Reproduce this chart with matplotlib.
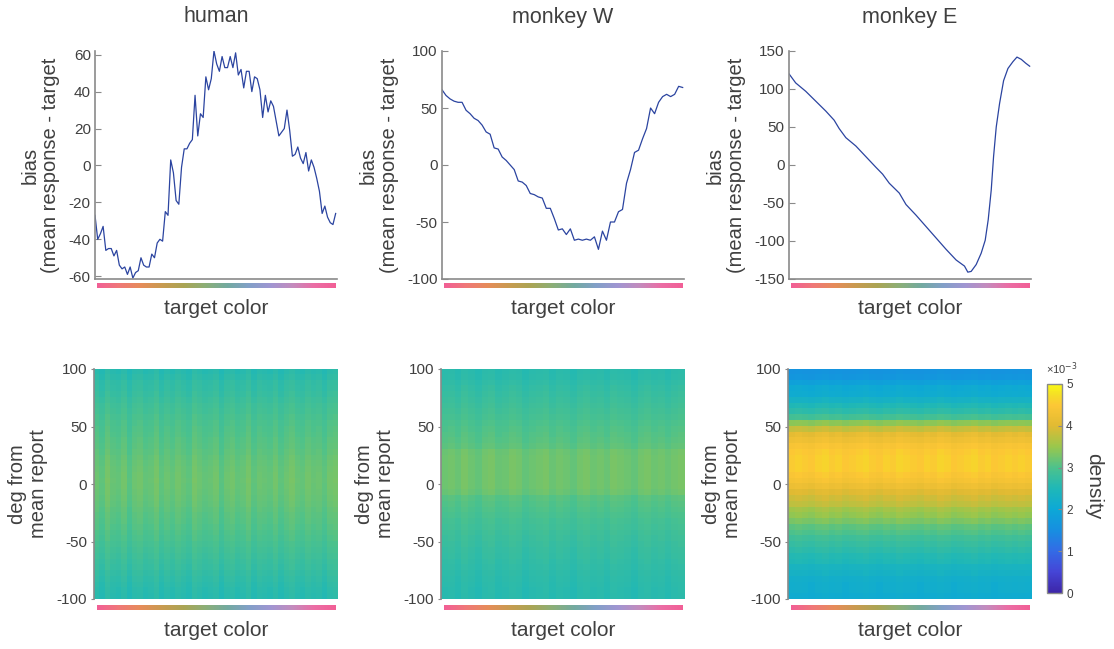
import numpy as np
import matplotlib
matplotlib.use('Agg')
import matplotlib.pyplot as plt
from matplotlib.colors import LinearSegmentedColormap

# ---- data ----
panel_titles = ['human', 'monkey W', 'monkey E']

# bias curves (deg), x = target color position (deg around the hue circle)
human_bias = [-27, -40, -37, -33, -46, -45, -45, -49, -46, -54,
              -56, -55, -59, -55, -61, -58, -57, -50, -54, -55,
              -55, -48, -50, -42, -40, -41, -25, -27, 3, -4,
              -19, -21, -1, 9, 9, 12, 14, 38, 16, 28,
              26, 48, 41, 47, 62, 55, 51, 59, 53, 53,
              59, 53, 61, 49, 52, 42, 51, 51, 40, 48,
              47, 41, 26, 38, 29, 35, 32, 24, 16, 18,
              20, 30, 19, 5, 6, 10, 4, 1, 7, -3,
              3, -1, -7, -14, -26, -22, -28, -31, -32, -26]
monkeyW_bias = [66, 61, 58, 56, 55, 55, 48, 45, 41, 39,
                35, 29, 27, 15, 14, 7, 4, 0, -4, -14,
                -15, -18, -25, -26, -28, -29, -38, -38, -47, -57,
                -56, -61, -56, -66, -65, -66, -65, -66, -63, -74,
                -58, -66, -50, -50, -41, -39, -16, -4, 11, 13,
                23, 32, 50, 45, 55, 60, 62, 60, 62, 69, 68]
monkeyE_x = [0, 10, 25, 40, 55, 67.5, 75, 85, 100, 115,
             130, 140, 150, 165, 175, 190, 205, 220, 235, 250,
             262.5, 267.5, 272.5, 280, 287.5, 293.5, 298, 302.5, 306, 310,
             315, 321, 327.5, 335, 341, 347.5, 354, 360]
monkeyE_bias = [120, 108, 97, 84, 71, 59, 48, 36, 25, 11,
                -3, -12, -24, -37, -52, -66, -81, -96, -111, -125,
                -133, -141, -140, -131, -116, -99, -72, -33, 11, 50,
                81, 111, 127, 136, 142, 139, 134, 130]

top_ylims = [(-61.5, 62), (-100, 100), (-150, 150)]
top_yticks = [[-60, -40, -20, 0, 20, 40, 60],
              [-100, -50, 0, 50, 100],
              [-150, -100, -50, 0, 50, 100, 150]]

# density profiles (x1e-3), rows from +97.5 deg down to -97.5 deg
human_profile = [2.60, 2.65, 2.71, 2.73, 2.77, 2.82, 2.87, 2.90, 2.94, 2.97,
                 3.00, 3.02, 3.05, 3.07, 3.10, 3.13, 3.15, 3.17, 3.18, 3.19,
                 3.18, 3.17, 3.15, 3.13, 3.10, 3.07, 3.05, 3.02, 2.99, 2.96,
                 2.92, 2.88, 2.84, 2.80, 2.77, 2.73, 2.69, 2.65, 2.62, 2.60]
monkeyW_profile = [2.62, 2.64, 2.68, 2.72, 2.76, 2.80, 2.84, 2.88, 2.92, 2.96,
                   3.00, 3.03, 3.06, 3.10, 3.20, 3.22, 3.22, 3.22, 3.22, 3.22,
                   3.22, 3.18, 3.06, 3.02, 2.98, 2.94, 2.90, 2.87, 2.84, 2.81,
                   2.78, 2.75, 2.73, 2.70, 2.68, 2.66, 2.64, 2.62, 2.61, 2.60]
monkeyE_profile = [1.60, 1.65, 1.85, 2.05, 2.10, 2.30, 2.50, 2.65, 2.90, 3.40,
                   3.80, 4.10, 4.25, 4.40, 4.50, 4.55, 4.55, 4.55, 4.45, 4.35,
                   4.20, 4.00, 3.85, 3.75, 3.55, 3.45, 3.30, 3.10, 3.00, 2.85,
                   2.75, 2.65, 2.55, 2.50, 2.35, 2.30, 2.20, 2.15, 2.15, 2.10]

# column-to-column wobble (fraction), read roughly from the striping
human_cols = [0.01, -0.02, 0.03, 0.0, -0.01, 0.02, -0.03, 0.01, 0.02, -0.01,
              0.0, 0.03, -0.02, 0.01, -0.01, 0.02, 0.0, -0.02, 0.03, 0.01,
              -0.01, 0.0, 0.02, -0.03, 0.01, 0.02, -0.01, 0.0, 0.03, -0.02,
              0.01, 0.0, -0.01, 0.02, -0.02, 0.01, 0.03, 0.0, -0.01, 0.02,
              0.0, 0.01, -0.02, 0.02, 0.03]
monkeyW_cols = [0.0, 0.01, -0.01, 0.02, 0.0, -0.02, 0.01, 0.02, -0.01, 0.0,
                0.02, 0.01, -0.02, 0.0, 0.01, 0.02, -0.01, 0.01, 0.0, -0.02,
                0.01, 0.02, 0.0, 0.01, -0.01, 0.02, 0.01, 0.0, -0.02, 0.01,
                0.02, 0.0, 0.01, -0.01, 0.01, 0.02]
monkeyE_cols = [0.0, 0.01, 0.0, -0.01, 0.01, 0.02, 0.0, 0.01, -0.01, 0.0,
                0.01, 0.02, 0.0, -0.01, 0.01, 0.0, 0.02, 0.01, 0.0, -0.01,
                0.01, 0.0, 0.02, 0.01, -0.01, 0.0, 0.01, 0.02, 0.0, 0.01,
                -0.01, 0.0, 0.01, 0.0, 0.01, 0.0]

# hue strip along the target color axis
strip_colors = ['#f25f96', '#f07878', '#e68c5a', '#c89b50', '#aaa555', '#8caf78',
                '#73aaa0', '#82a0c8', '#a096d2', '#c38cbe', '#eb6ea5', '#f25f96']

# ---- styling ----
W, H = 1114, 649
txt_col = '#404040'
ax_col = '#8a8a8a'
line_col = '#2b44a0'
plt.rcParams['font.family'] = ['Liberation Sans', 'DejaVu Sans']
plt.rcParams['axes.unicode_minus'] = False

# parula-like map, anchors matched to the reference colorbar
parula = LinearSegmentedColormap.from_list('parula', [
    (0.0, (0.24, 0.15, 0.66)), (0.1, (0.27, 0.27, 0.84)), (0.2, (0.20, 0.42, 0.90)),
    (0.3, (0.09, 0.56, 0.88)), (0.4, (0.05, 0.66, 0.84)), (0.5, (0.12, 0.72, 0.72)),
    (0.6, (0.30, 0.76, 0.55)), (0.7, (0.60, 0.78, 0.30)), (0.8, (0.88, 0.73, 0.20)),
    (0.9, (0.99, 0.78, 0.21)), (0.95, (0.96, 0.87, 0.15)), (1.0, (0.98, 0.98, 0.08))])
strip_cmap = LinearSegmentedColormap.from_list('hue', strip_colors)


def box(l, t, r, b):
    # pixel box -> figure fraction
    return [l / W, 1 - b / H, (r - l) / W, (b - t) / H]


fig = plt.figure(figsize=(W / 100, H / 100), dpi=100)

lefts = [95, 442, 789]
biases = [(np.linspace(0, 360, len(human_bias)), human_bias),
          (np.linspace(0, 360, len(monkeyW_bias)), monkeyW_bias),
          (monkeyE_x, monkeyE_bias)]
profiles = [human_profile, monkeyW_profile, monkeyE_profile]
colwobble = [human_cols, monkeyW_cols, monkeyE_cols]


def add_strip(l, t):
    sax = fig.add_axes(box(l + 2, t, l + 241, t + 5))
    sax.imshow(np.linspace(0, 1, 256)[None, :], cmap=strip_cmap, aspect='auto')
    sax.axis('off')


for i in range(3):
    l = lefts[i]
    # --- top row: bias curves ---
    ax = fig.add_axes(box(l, 51, l + 242, 279))
    x, y = biases[i]
    ax.plot(x, y, color=line_col, lw=0.9)
    ax.set_xlim(0, 362)
    ax.set_ylim(*top_ylims[i])
    ax.set_yticks(top_yticks[i])
    ax.set_xticks([])
    for s in ['top', 'right']:
        ax.spines[s].set_visible(False)
    for s in ['left', 'bottom']:
        ax.spines[s].set_color(ax_col)
        ax.spines[s].set_linewidth(1.2)
    ax.tick_params(axis='y', direction='in', length=4, width=0.8, color=ax_col,
                   labelcolor=txt_col, labelsize=11, pad=3)
    ax.set_ylabel('bias\n(mean response - target', color=txt_col, fontsize=14.5,
                  labelpad=6, linespacing=1.15)
    add_strip(l, 283)
    fig.text((l + 121) / W, 1 - 308 / H, 'target color', ha='center', va='center',
             color=txt_col, fontsize=15)
    fig.text((l + 121) / W, 1 - 17 / H, panel_titles[i], ha='center', va='center',
             color=txt_col, fontsize=15.5)

    # --- bottom row: density heatmaps ---
    hx = fig.add_axes(box(l - 1, 369, l + 243, 599))
    dens = np.array(profiles[i])[:, None] * (1 + np.array(colwobble[i])[None, :])
    im = hx.imshow(dens, cmap=parula, vmin=0, vmax=5, aspect='auto',
                   extent=[0, 360, -100, 100], origin='upper', interpolation='nearest')
    hx.set_ylim(-100, 100)
    hx.set_yticks([-100, -50, 0, 50, 100])
    hx.set_xticks([])
    for s in ['top', 'right', 'bottom']:
        hx.spines[s].set_visible(False)
    hx.spines['left'].set_color(ax_col)
    hx.spines['left'].set_linewidth(1.2)
    hx.tick_params(axis='y', direction='out', length=2, width=0.8, color=ax_col,
                   labelcolor=txt_col, labelsize=11, pad=3)
    hx.set_ylabel('deg from\nmean report', color=txt_col, fontsize=14.5,
                  labelpad=6, linespacing=1.15)
    add_strip(l, 605)
    fig.text((l + 121) / W, 1 - 630 / H, 'target color', ha='center', va='center',
             color=txt_col, fontsize=15)

# colorbar
cax = fig.add_axes(box(1047, 384, 1062, 593))
cb = fig.colorbar(im, cax=cax, ticks=[0, 1, 2, 3, 4, 5])
cb.outline.set_edgecolor(ax_col)
cb.outline.set_linewidth(1.0)
cax.tick_params(direction='in', length=3, width=0.8, color=ax_col,
                labelcolor=txt_col, labelsize=8.5, pad=3)
fig.text(1046 / W, 1 - 369 / H, '×10$^{-3}$', color=txt_col, fontsize=8,
         ha='left', va='center')
fig.text(1094 / W, 1 - 486 / H, 'density', rotation=270, color=txt_col,
         fontsize=15, ha='center', va='center')

fig.savefig('out.png', dpi=100)
